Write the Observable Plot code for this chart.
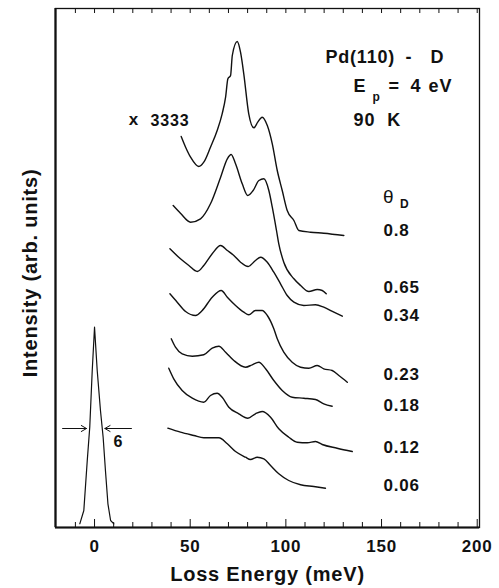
<!DOCTYPE html>
<html><head><meta charset="utf-8">
<script src="https://cdn.jsdelivr.net/npm/d3@7"></script>
<script src="https://cdn.jsdelivr.net/npm/@observablehq/plot@0.6"></script>
<style>body{margin:0;background:#fff}</style>
</head><body><div id="chart"></div>
<script>
// Loss energy (meV), intensity (arb. units, offset stacked)
const traceA = [[45.3,391],[47.6,380.3],[50.2,370.3],[54.5,361],[57.1,365.3],[60.6,380.3],[64.1,397],[66.7,413.7],[68.5,430.3],[69.7,448.7],[71.1,452],[72.0,472],[74.6,486],[76.3,475.3],[78.0,453.7],[80.6,413.7],[83.3,399.7],[85.3,405.3],[87.6,410.3],[90.3,402],[92.9,383.7],[95.5,357],[98.1,337],[100.7,317],[104.2,307],[106.8,297],[112.9,295.3],[119.8,294.3],[130.3,292]];
const traceB = [[41.1,322],[44.9,314.3],[50.2,305.3],[55.4,308.7],[60.6,323.7],[65.9,350.3],[69.4,368.7],[71.4,373],[73.7,363.7],[77.2,343.7],[80.1,332],[82.9,337],[85.9,347],[88.5,348.7],[91.1,337],[92.9,320.3],[95.1,297],[96.3,283.7],[98.9,265.3],[104.2,248.7],[107.7,242],[112.0,236],[116.4,238],[119.0,237],[121.1,233.7]];
const traceC = [[39.4,278.7],[44.9,268.7],[49.3,262],[53.7,256],[57.1,262],[61.5,273.7],[65.9,282],[69.4,277],[72.8,272],[76.3,265.3],[80.3,261],[84.1,267],[86.8,270.3],[90.3,265.3],[93.7,255.3],[97.2,243.7],[100.7,232],[104.2,225.3],[109.4,222],[115.5,222.7],[119.8,220.3],[125.1,215.3],[129.5,211.3]];
const traceD = [[39.4,233.7],[43.2,225.3],[47.6,216],[52.8,212],[56.3,217],[61.5,230.3],[66.2,237],[69.4,230.3],[73.7,222],[78.0,215.3],[80.6,212.7],[84.1,217],[87.6,217],[90.3,212],[93.7,198.7],[95.5,188.7],[98.9,175.3],[103.3,165.3],[107.7,160.3],[112.0,159.3],[116.4,162],[119.8,158.7],[124.2,157],[127.7,152],[132.1,145.3]];
const traceE = [[40.1,188.7],[42.3,180.3],[45.8,173.7],[51.1,171.3],[57.1,172.7],[61.5,179.3],[65.0,181.3],[68.5,175.3],[72.8,167],[78.9,160.3],[82.4,162.7],[85.9,165.3],[89.4,158.7],[93.7,147],[98.1,137],[103.3,130.3],[109.4,129.3],[115.5,128],[119.8,123.7],[124.2,121.3]];
const traceF = [[38.8,159.3],[41.4,148.7],[45.8,137],[51.1,129.3],[57.1,125.3],[60.6,132],[64.1,134.3],[66.7,130.3],[70.2,120.3],[75.4,113.7],[80.1,109.3],[84.1,113.7],[87.6,116],[92.0,110.3],[96.3,98.7],[101.5,90.3],[105.9,85.3],[111.2,84.7],[115.5,86],[119.0,83],[126.8,79.3],[134.7,76]];
const traceG = [[38.3,99.3],[44.9,95.3],[51.9,92],[57.1,89.7],[65.0,89.7],[69.4,83.7],[73.7,76],[78.9,70.3],[81.5,68],[85.0,70.3],[88.5,68.7],[92.0,62],[96.3,53.7],[101.5,47],[107.7,42.7],[114.6,41],[120.7,39.3]];
const elasticPeak = [[-7.7,3.7],[-5.6,17],[-3.8,67],[-2.5,100.3],[-1.2,157],[0,200.3],[1.4,157],[3.1,117],[4.5,90.3],[5.7,57],[7.0,23.7],[8.4,7],[10.1,3.7]];

const thetaLabels = ["0.8","0.65","0.34","0.23","0.18","0.12","0.06"];
const thetaLevels = [296.5,239.7,212,153,122,80.3,42];
const thetaX = 151.0;

const headerText = ["Pd(110)","-","D","E","=","4","eV","90","K"];
const headerX = [120.7,162.5,175.6,135.4,153.7,165.2,174.6,135.4,153.0];
const headerY = [470,470,470,441,441,441,441,407,407];

const xMajorTicks = [0,50,100,150,200];
const xMinorTicks = [-10,10,20,30,40,60,70,80,90,110,120,130,140,160,170,180,190];

const fwhmArrows = [{x1:-16.7,x2:-4.2,y:99},{x1:19.3,x2:5.4,y:99}];

const traces = [traceA,traceB,traceC,traceD,traceE,traceF,traceG];
const lines = traces.flatMap((t,i)=>t.map(([e,v])=>({e,v,s:i})));
const peak = elasticPeak.map(([e,v])=>({e,v}));
const header = headerText.map((t,i)=>({t,x:headerX[i],y:headerY[i]}));
const thetas = thetaLabels.map((t,i)=>({t,y:thetaLevels[i]}));

const font = "'Liberation Sans', Arial, Helvetica, sans-serif";
const chart = Plot.plot({
  width: 499, height: 588,
  marginLeft: 55, marginRight: 20, marginTop: 8, marginBottom: 61,
  style: {fontFamily: font, background: "#fff", color: "#111", letterSpacing: "0.8px"},
  x: {domain: [-20.4, 201.2]},
  y: {domain: [0, 519], axis: null},
  marks: [
    Plot.frame({stroke: "#111", strokeWidth: 1.3}),
    Plot.ruleY([0], {stroke: "#111", strokeWidth: 2.2}),
    Plot.ruleX([-20.4], {stroke: "#111", strokeWidth: 2.2}),
    Plot.ruleX(xMinorTicks, {y1: 0, y2: 5, stroke: "#111", strokeWidth: 1}),
    Plot.ruleX(xMajorTicks, {y1: 0, y2: 8, stroke: "#111", strokeWidth: 1}),
    Plot.ruleX(xMinorTicks.concat(xMajorTicks), {y1: 514, y2: 519, stroke: "#111", strokeWidth: 1}),
    Plot.axisX({ticks: xMajorTicks, tickSize: 0, tickPadding: 12, fontSize: 17, fontWeight: "bold", label: null}),
    Plot.text(["Loss Energy (meV)"], {frameAnchor: "bottom", dy: 47, fontSize: 20, fontWeight: "bold", lineAnchor: "middle"}),
    Plot.text(["Intensity (arb. units)"], {frameAnchor: "left", y: 254.5, dx: -25, rotate: -90, textAnchor: "middle", fontSize: 20, fontWeight: "bold", lineAnchor: "middle"}),
    Plot.line(lines, {x: "e", y: "v", z: "s", stroke: "#111", strokeWidth: 1.4, curve: "monotone-x"}),
    Plot.line(peak, {x: "e", y: "v", stroke: "#111", strokeWidth: 1.2}),
    Plot.arrow(fwhmArrows, {x1: "x1", x2: "x2", y1: "y", y2: "y", stroke: "#111", strokeWidth: 1, headLength: 9}),
    Plot.text(["6"], {x: 12.4, y: 85.3, fontSize: 16, fontWeight: "bold"}),
    Plot.text(header, {x: "x", y: "y", text: "t", textAnchor: "start", fontSize: 18, fontWeight: "bold"}),
    Plot.text(["p"], {x: 145.3, y: 430, textAnchor: "start", fontSize: 12, fontWeight: "bold"}),
    Plot.text(["x"], {x: 17.9, y: 408, textAnchor: "start", fontSize: 17, fontWeight: "bold"}),
    Plot.text(["3333"], {x: 29.3, y: 407, textAnchor: "start", fontSize: 16, fontWeight: "bold", letterSpacing: 0}),
    Plot.text(["θ"], {x: 150.8, y: 330.3, textAnchor: "start", fontSize: 19}),
    Plot.text(["D"], {x: 159.6, y: 323.3, textAnchor: "start", fontSize: 12, fontWeight: "bold"}),
    Plot.text(thetas, {x: thetaX, y: "y", text: "t", textAnchor: "start", fontSize: 17, fontWeight: "bold"})
  ]
});
document.getElementById("chart").append(chart);
</script>
</body></html>
